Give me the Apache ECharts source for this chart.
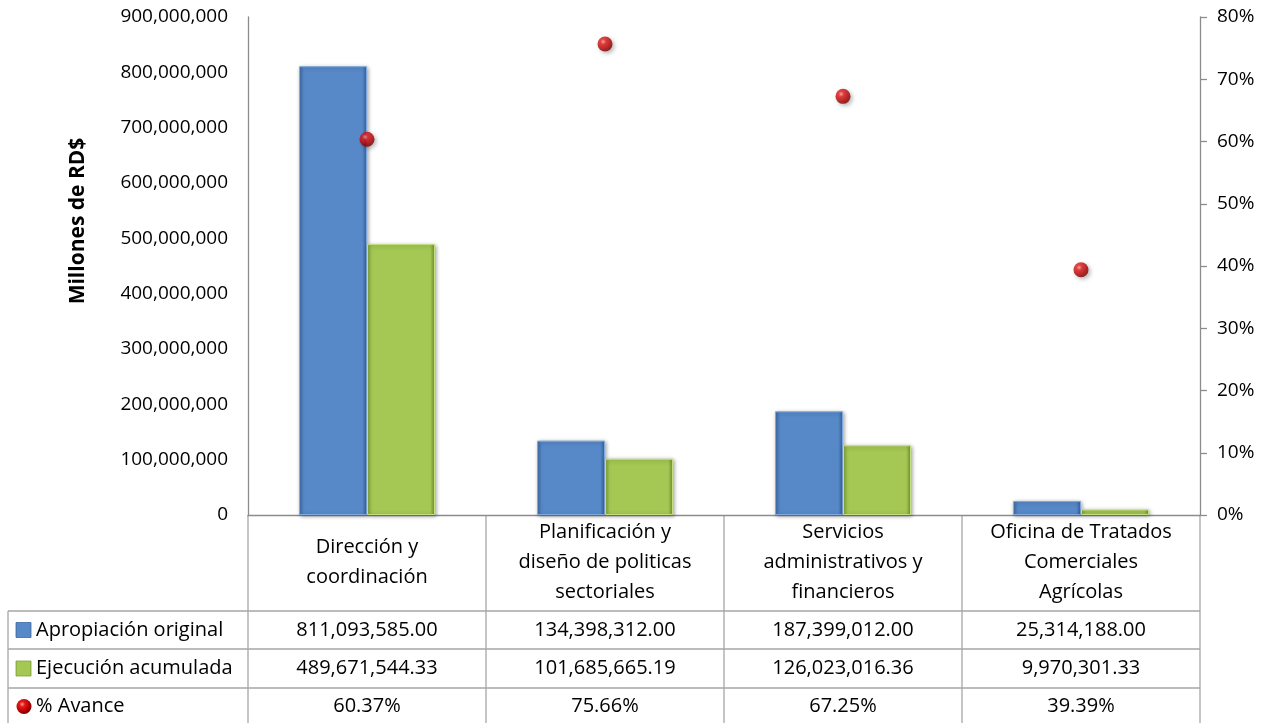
<!DOCTYPE html>
<html>
<head>
<meta charset="utf-8">
<script src="https://cdn.jsdelivr.net/npm/echarts@6/dist/echarts.min.js"></script>
<style>
html,body{margin:0;padding:0;background:#fff;}
#chart{width:1270px;height:723px;}
</style>
</head>
<body>
<div id="chart"></div>
<script>
// ---- data ----
const categories = [
  'Dirección y\ncoordinación',
  'Planificación y\ndiseño de politicas\nsectoriales',
  'Servicios\nadministrativos y\nfinancieros',
  'Oficina de Tratados\nComerciales\nAgrícolas'
];
const apropiacion = [811093585.00, 134398312.00, 187399012.00, 25314188.00];
const ejecucion = [489671544.33, 101685665.19, 126023016.36, 9970301.33];
const avance = [60.37, 75.66, 67.25, 39.39];
const seriesNames = ['Apropiación original', 'Ejecución acumulada', '% Avance'];
const leftTicks = {min: 0, max: 900000000, interval: 100000000};
const rightTicks = {min: 0, max: 80, interval: 10};

// ---- layout ----
const FONT = '"Open Sans", "Noto Sans", sans-serif';
const W = 1270, H = 723;
const gridLeft = 248, gridRight = 70, gridTop = 17, gridBottom = 208;
const plotRight = W - gridRight;
const axisY = H - gridBottom;
const colW = (plotRight - gridLeft) / categories.length;
const tableLeft = 8;
const rowTops = [611, 649, 688, H + 2];
const lineColor = '#a6a6a6';

const blueFill = {type:'linear', x:0, y:0, x2:1, y2:0, colorStops:[
  {offset:0, color:'#3d6aa3'}, {offset:0.07, color:'#5789c9'},
  {offset:0.93, color:'#5789c9'}, {offset:1, color:'#36609a'}]};
const greenFill = {type:'linear', x:0, y:0, x2:1, y2:0, colorStops:[
  {offset:0, color:'#7e9f3b'}, {offset:0.07, color:'#a4c853'},
  {offset:0.93, color:'#a4c853'}, {offset:1, color:'#718f33'}]};
const redBall = {type:'radial', x:0.38, y:0.35, r:0.7, colorStops:[
  {offset:0, color:'#ff9a9a'}, {offset:0.25, color:'#e51a1a'},
  {offset:0.7, color:'#b00000'}, {offset:1, color:'#6a0000'}]};

function fmtMoney(v){
  return v.toLocaleString('en-US', {minimumFractionDigits:2, maximumFractionDigits:2});
}
function fmtPct(v){ return v.toFixed(2) + '%'; }

// ---- table graphics ----
const graphics = [];
// title (clipped at top as in the reference)
graphics.push({type:'text', left: 360, top: -22, z:10, style:{
  text:'Monto Total y Avance Financiero por Programa',
  font:'italic bold 20px ' + FONT, fill:'#000'}});
// y-axis title
graphics.push({type:'text', x:78, y:221, rotation:Math.PI/2, style:{
  text:'Millones de RD$', font:'bold 21px ' + FONT, fill:'#000',
  align:'center', verticalAlign:'middle'}});
// horizontal lines
rowTops.slice(0,3).forEach(y=>{
  graphics.push({type:'line', shape:{x1:tableLeft, y1:y, x2:plotRight, y2:y},
    style:{stroke:lineColor, lineWidth:1.3}, silent:true});
});
// left border
graphics.push({type:'line', shape:{x1:tableLeft, y1:rowTops[0], x2:tableLeft, y2:H},
  style:{stroke:lineColor, lineWidth:1.3}, silent:true});
// vertical column lines
for (let i=0;i<=categories.length;i++){
  const x = gridLeft + i*colW;
  graphics.push({type:'line', shape:{x1:x, y1:axisY, x2:x, y2:H},
    style:{stroke:lineColor, lineWidth:1.3}, silent:true});
}
// row labels and keys
const rowData = [apropiacion.map(fmtMoney), ejecucion.map(fmtMoney), avance.map(fmtPct)];
for (let r=0;r<3;r++){
  const cy = (rowTops[r] + Math.min(rowTops[r+1], H)) / 2 + (r===2 ? 1 : 0);
  if (r < 2){
    graphics.push({type:'rect', shape:{x:16, y:cy-7.5, width:15, height:15},
      style:{fill: r===0 ? blueFill : greenFill, stroke: r===0 ? '#3d6aa3' : '#7e9f3b', lineWidth:0.8}});
  } else {
    graphics.push({type:'circle', shape:{cx:24, cy:cy, r:7.5}, style:{fill:redBall}});
  }
  graphics.push({type:'text', x:36, y:cy, style:{text:seriesNames[r],
    font:'20px ' + FONT, fill:'#000', align:'left', verticalAlign:'middle'}});
  for (let c=0;c<categories.length;c++){
    graphics.push({type:'text', x:gridLeft + (c+0.5)*colW, y:cy, style:{text:rowData[r][c],
      font:'20px ' + FONT, fill:'#000', align:'center', verticalAlign:'middle'}});
  }
}

const chart = echarts.init(document.getElementById('chart'), null, {renderer:'canvas'});
chart.setOption({
  animation:false,
  textStyle:{fontFamily:FONT},
  grid:{left:gridLeft, right:gridRight, top:gridTop, bottom:gridBottom, containLabel:false},
  xAxis:{
    type:'category', data:categories,
    axisLine:{show:true, lineStyle:{color:'#8c8c8c', width:1.3}},
    axisTick:{show:false},
    axisLabel:{color:'#000', fontSize:20, lineHeight:30, margin:47,
      verticalAlign:'middle', interval:0, fontFamily:FONT}
  },
  yAxis:[
    {type:'value', min:leftTicks.min, max:leftTicks.max, interval:leftTicks.interval,
      axisLine:{show:true, lineStyle:{color:'#8c8c8c', width:1.3}},
      axisTick:{show:false}, splitLine:{show:false},
      axisLabel:{color:'#000', fontSize:19, margin:20, fontFamily:FONT,
        formatter:v=>v.toLocaleString('en-US')}},
    {type:'value', min:rightTicks.min, max:rightTicks.max, interval:rightTicks.interval,
      position:'right',
      axisLine:{show:true, lineStyle:{color:'#8c8c8c', width:1.3}},
      axisTick:{show:true, length:7, lineStyle:{color:'#8c8c8c', width:1.3}},
      splitLine:{show:false},
      axisLabel:{color:'#000', fontSize:19, margin:17, fontFamily:FONT, formatter:'{value}%'}}
  ],
  series:[
    {name:seriesNames[0], type:'bar', data:apropiacion, barWidth:68, barGap:'0%',
      itemStyle:{color:blueFill, borderColor:'#7fa8dc', borderWidth:1,
        shadowColor:'rgba(0,0,0,0.35)', shadowBlur:4, shadowOffsetX:1, shadowOffsetY:1}},
    {name:seriesNames[1], type:'bar', data:ejecucion, barWidth:68, barGap:'0%',
      itemStyle:{color:greenFill, borderColor:'#c2dd82', borderWidth:1,
        shadowColor:'rgba(0,0,0,0.35)', shadowBlur:4, shadowOffsetX:1, shadowOffsetY:1}},
    {name:seriesNames[2], type:'scatter', yAxisIndex:1, data:avance, symbol:'circle', symbolSize:15,
      itemStyle:{color:redBall, shadowColor:'rgba(0,0,0,0.35)', shadowBlur:4, shadowOffsetX:2, shadowOffsetY:2}, z:5}
  ],
  graphic:graphics
});
</script>
</body>
</html>
